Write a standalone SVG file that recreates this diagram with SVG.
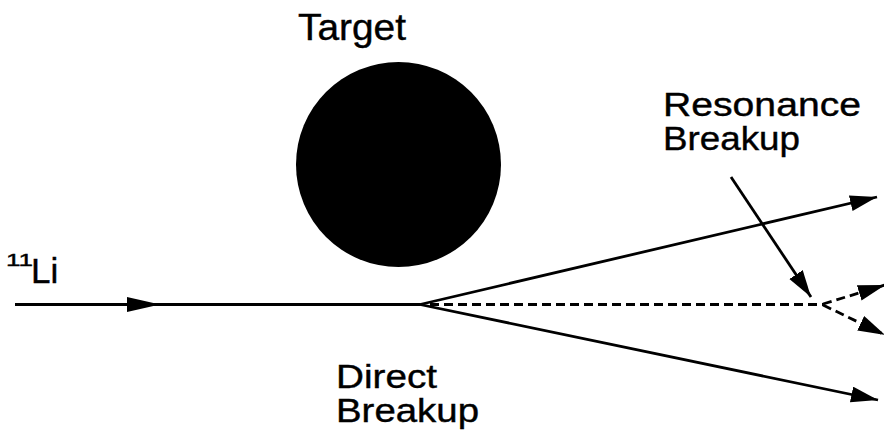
<svg xmlns="http://www.w3.org/2000/svg" width="884" height="443" viewBox="0 0 884 443">
<style>
.lbl{font-family:"Liberation Sans",Arial,sans-serif;fill:#000;stroke:#000;stroke-width:0.4;}
.ln{stroke:#000;stroke-width:2.8;fill:none;}
.dash{stroke:#000;stroke-width:2.8;fill:none;stroke-dasharray:9 5;}
</style>
<defs>
<marker id="ah" markerUnits="userSpaceOnUse" markerWidth="28" markerHeight="18" refX="27" refY="8" orient="auto">
<path d="M0,0 L27,8 L0,16 z" fill="#000"/>
</marker>
<marker id="ahm" markerUnits="userSpaceOnUse" markerWidth="34" markerHeight="16" refX="33" refY="7.5" orient="auto">
<path d="M0,0 L33,7.5 L0,15 z" fill="#000"/>
</marker>
</defs>
<rect width="884" height="443" fill="#fff"/>
<g id="target">
<circle cx="398.5" cy="164.5" r="102.5" fill="#000"/>
<text class="lbl" x="298" y="40" font-size="36" textLength="108" lengthAdjust="spacingAndGlyphs">Target</text>
</g>
<g id="li11">
<text class="lbl" x="6" y="266" font-size="17" textLength="27" lengthAdjust="spacingAndGlyphs">11</text>
<text class="lbl" x="31" y="283" font-size="35">Li</text>
</g>
<g id="resonance-label">
<text class="lbl" x="663" y="116" font-size="33" textLength="198" lengthAdjust="spacingAndGlyphs">Resonance</text>
<text class="lbl" x="663" y="150" font-size="33" textLength="137" lengthAdjust="spacingAndGlyphs">Breakup</text>
</g>
<g id="direct-label">
<text class="lbl" x="336" y="388" font-size="33" textLength="101" lengthAdjust="spacingAndGlyphs">Direct</text>
<text class="lbl" x="336" y="422" font-size="33" textLength="143" lengthAdjust="spacingAndGlyphs">Breakup</text>
</g>
<g id="connectors">
<path class="ln" d="M15,304.5 L160,304.5" marker-end="url(#ahm)"/>
<path class="ln" d="M158,304.5 L420,304.5"/>
<path class="ln" d="M420,304.5 L877,197" marker-end="url(#ah)"/>
<path class="ln" d="M420,304.5 L878,400" marker-end="url(#ah)"/>
<path class="dash" d="M430,304.5 L823,304.5"/>
<path class="dash" d="M823,304 L885,285" marker-end="url(#ah)"/>
<path class="dash" d="M823,305 L885,335" marker-end="url(#ah)"/>
<path class="ln" d="M731,177 L811,297" marker-end="url(#ah)"/>
</g>
</svg>
